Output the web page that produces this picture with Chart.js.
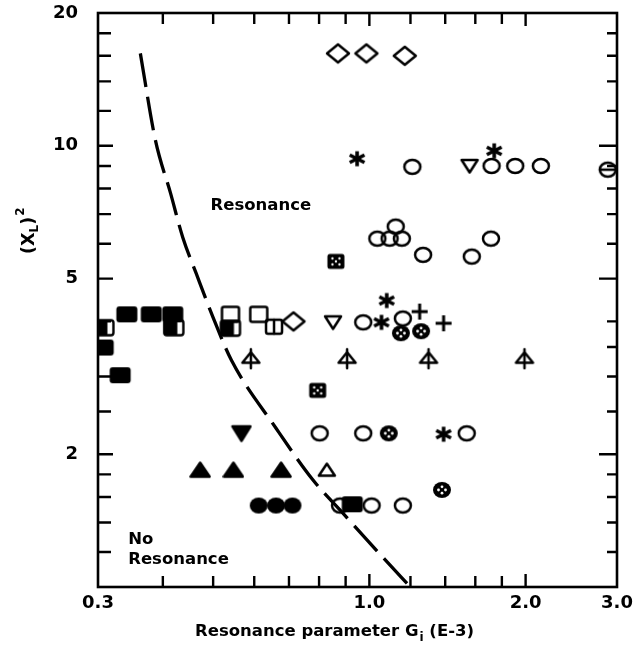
<!DOCTYPE html>
<html><head><meta charset="utf-8">
<script src="https://cdn.jsdelivr.net/npm/chart.js@4.4.0/dist/chart.umd.min.js"></script>
<style>html,body{margin:0;padding:0;background:#fff;}canvas{display:block;}</style>
</head><body>
<canvas id="c" width="634" height="648"></canvas>
<script>
// ---- tick values and labels ----
const xTickValues = [0.3,0.4,0.5,0.6,0.7,0.8,0.9,1,1.2,1.4,1.6,1.8,2,3];
const xTickLabels = {'0.3':'0.3','1':'1.0','2':'2.0','3':'3.0'};
const yTickValues = [1,1.2,1.4,1.6,1.8,2,2.5,3,3.5,4,5,6,7,8,9,10,12,14,16,18,20];
const yTickLabels = {'2':'2','5':'5','10':'10','20':'20'};

// ---- boundary (dashed curve) ----
const boundaryX = [0.362,0.387,0.414,0.437,0.464,0.500,0.542,0.661,0.778,0.889,1.06,1.20];
const boundaryY = [16.2,10.3,7.8,6.2,5.13,4.08,3.27,2.29,1.75,1.47,1.17,1.0];

// ---- data series ----
const openCircleX = [1.21,1.72,1.91,2.14, 1.036,1.094,1.155,1.124,1.269,1.575,1.715, 0.973,1.16, 0.802,0.973,1.54, 0.878,1.01,1.16];
const openCircleY = [8.96,9.0,9.0,9.0, 6.16,6.16,6.16,6.56,5.66,5.61,6.16, 3.98,4.06, 2.23,2.23,2.23, 1.53,1.53,1.53];
const thetaCircleX = [2.88];
const thetaCircleY = [8.83];
const diamondX = [0.870,0.987,1.17,0.714];
const diamondY = [16.2,16.2,16.0,4.0];
const asteriskX = [0.947,1.74,1.08,1.055,1.39];
const asteriskY = [9.35,9.74,4.46,3.98,2.22];
const openTriDownX = [1.56,0.851];
const openTriDownY = [9.0,3.98];
const filledTriDownX = [0.567];
const filledTriDownY = [2.23];
const filledTriUpX = [0.472,0.547,0.676];
const filledTriUpY = [1.84,1.84,1.84];
const openTriUpX = [0.828];
const openTriUpY = [1.84];
const plusX = [1.25,1.39];
const plusY = [4.21,3.96];
const dotCircleX = [1.15,1.258,1.09,1.38];
const dotCircleY = [3.76,3.80,2.23,1.66];
const dotSquareX = [0.862,0.795];
const dotSquareY = [5.47,2.79];
const stemTriX = [0.591,0.906,1.30,1.99];
const stemTriY = [3.30,3.30,3.30,3.30];
const filledCircleX = [0.612,0.661,0.711];
const filledCircleY = [1.53,1.53,1.53];
const filledSquareX = [0.927,0.341,0.380,0.418,0.307,0.331];
const filledSquareY = [1.54,4.15,4.15,4.15,3.49,3.02];
const halfSquareX = [0.308,0.420,0.540];
const halfSquareY = [3.87,3.87,3.86];
const openSquareX = [0.540,0.612];
const openSquareY = [4.15,4.15];
const splitSquareX = [0.655];
const splitSquareY = [3.89];

// ---- marker glyphs ----
function mk(w, h, draw) {
  const c = document.createElement('canvas');
  c.width = w; c.height = h;
  const g = c.getContext('2d');
  g.strokeStyle = '#000'; g.fillStyle = '#000';
  g.lineWidth = 2.5; g.lineJoin = 'round'; g.lineCap = 'round';
  g.translate(w / 2, h / 2);
  draw(g);
  return c;
}
function rrect(g, x, y, w, h, r) {
  g.beginPath();
  g.moveTo(x + r, y); g.lineTo(x + w - r, y); g.quadraticCurveTo(x + w, y, x + w, y + r);
  g.lineTo(x + w, y + h - r); g.quadraticCurveTo(x + w, y + h, x + w - r, y + h);
  g.lineTo(x + r, y + h); g.quadraticCurveTo(x, y + h, x, y + h - r);
  g.lineTo(x, y + r); g.quadraticCurveTo(x, y, x + r, y); g.closePath();
}
const M = {
  openCircle: mk(24, 22, g => { g.beginPath(); g.ellipse(0, 0, 8, 7, 0, 0, 2 * Math.PI); g.stroke(); }),
  thetaCircle: mk(24, 22, g => { g.beginPath(); g.ellipse(0, 0, 8, 7, 0, 0, 2 * Math.PI); g.stroke();
    g.beginPath(); g.moveTo(-8, 0); g.lineTo(8, 0); g.stroke(); }),
  filledCircle: mk(22, 20, g => { g.beginPath(); g.ellipse(0, 0, 9, 8, 0, 0, 2 * Math.PI); g.fill(); }),
  dotCircle: mk(22, 20, g => { g.beginPath(); g.ellipse(0, 0, 9, 8, 0, 0, 2 * Math.PI); g.fill();
    g.fillStyle = '#fff';
    [[-3.5, 0], [3.5, 0], [0, -3.2], [0, 3.2]].forEach(p => { g.beginPath(); g.arc(p[0], p[1], 1.4, 0, 2 * Math.PI); g.fill(); }); }),
  dotSquare: mk(22, 20, g => { rrect(g, -8.5, -7.5, 17, 15, 2.5); g.fill();
    g.fillStyle = '#fff';
    [[-3.5, -3], [3.5, -3], [-3.5, 3], [3.5, 3], [0, 0]].forEach(p => { g.beginPath(); g.arc(p[0], p[1], 1.2, 0, 2 * Math.PI); g.fill(); }); }),
  diamond: mk(28, 24, g => { g.beginPath(); g.moveTo(0, -9); g.lineTo(11, 0); g.lineTo(0, 9); g.lineTo(-11, 0); g.closePath(); g.stroke(); }),
  asterisk: mk(22, 20, g => { g.lineWidth = 3.6; g.lineCap = 'butt';
    [90, 30, 150].forEach(a => { const r = a * Math.PI / 180; const dx = Math.cos(r) * 8.5, dy = Math.sin(r) * 7.5;
      g.beginPath(); g.moveTo(-dx, -dy); g.lineTo(dx, dy); g.stroke(); }); }),
  plus: mk(22, 22, g => { g.lineWidth = 3; g.lineCap = 'butt'; g.beginPath(); g.moveTo(-8, 0); g.lineTo(8, 0); g.moveTo(0, -8); g.lineTo(0, 8); g.stroke(); }),
  filledTriUp: mk(22, 20, g => { g.beginPath(); g.moveTo(0, -7.5); g.lineTo(9.5, 6.5); g.lineTo(-9.5, 6.5); g.closePath(); g.fill(); g.stroke(); }),
  openTriUp: mk(22, 20, g => { g.beginPath(); g.moveTo(0, -6.5); g.lineTo(8, 5.5); g.lineTo(-8, 5.5); g.closePath(); g.stroke(); }),
  openTriDown: mk(22, 20, g => { g.beginPath(); g.moveTo(0, 6.5); g.lineTo(8, -6); g.lineTo(-8, -6); g.closePath(); g.stroke(); }),
  filledTriDown: mk(22, 20, g => { g.beginPath(); g.moveTo(0, 7.5); g.lineTo(9, -7); g.lineTo(-9, -7); g.closePath(); g.fill(); g.stroke(); }),
  stemTri: mk(22, 24, g => { g.lineWidth = 2.5; g.beginPath(); g.moveTo(0, -6); g.lineTo(8.5, 4.5); g.lineTo(-8.5, 4.5); g.closePath(); g.stroke();
    g.beginPath(); g.moveTo(0, -9); g.lineTo(0, 10); g.stroke(); }),
  filledSquare: mk(26, 20, g => { rrect(g, -10.5, -8, 21, 16, 3); g.fill(); }),
  halfSquare: mk(26, 20, g => { g.lineWidth = 2.4; rrect(g, -9.5, -7.5, 19, 15, 2.5); g.stroke();
    rrect(g, -10.5, -8, 14, 16, 2.5); g.fill(); }),
  openSquare: mk(24, 20, g => { rrect(g, -8.5, -7.5, 17, 15, 2); g.stroke(); }),
  splitSquare: mk(24, 20, g => { rrect(g, -8, -7, 16, 14, 2); g.stroke(); g.beginPath(); g.moveTo(0, -7); g.lineTo(0, 7); g.stroke(); })
};

function pts(xs, ys) { return xs.map((x, i) => ({ x: x, y: ys[i] })); }
function series(label, xs, ys, style, order) {
  return { label, data: pts(xs, ys), pointStyle: M[style], pointRadius: 6, pointHoverRadius: 6,
    showLine: false, borderColor: '#000', backgroundColor: '#000', order: order || 0 };
}

const datasets = [
  series('filled square', filledSquareX, filledSquareY, 'filledSquare', 0),
  series('half square', halfSquareX, halfSquareY, 'halfSquare', 1),
  series('open square', openSquareX, openSquareY, 'openSquare', 1),
  series('split square', splitSquareX, splitSquareY, 'splitSquare', 1),
  series('dotted circle', dotCircleX, dotCircleY, 'dotCircle', 0),
  series('dotted square', dotSquareX, dotSquareY, 'dotSquare', 0),
  series('open circle', openCircleX, openCircleY, 'openCircle', 2),
  series('theta circle', thetaCircleX, thetaCircleY, 'thetaCircle', 2),
  series('diamond', diamondX, diamondY, 'diamond', 2),
  series('asterisk', asteriskX, asteriskY, 'asterisk', 1),
  series('open triangle down', openTriDownX, openTriDownY, 'openTriDown', 2),
  series('filled triangle down', filledTriDownX, filledTriDownY, 'filledTriDown', 2),
  series('filled triangle up', filledTriUpX, filledTriUpY, 'filledTriUp', 2),
  series('open triangle up', openTriUpX, openTriUpY, 'openTriUp', 2),
  series('plus', plusX, plusY, 'plus', 1),
  series('stem triangle', stemTriX, stemTriY, 'stemTri', 2),
  series('filled circle', filledCircleX, filledCircleY, 'filledCircle', 2),
  { label: 'boundary', data: pts(boundaryX, boundaryY), showLine: true, pointRadius: 0, pointHoverRadius: 0,
    borderColor: '#000', borderWidth: 3.3, borderDash: [34, 10], cubicInterpolationMode: 'monotone', fill: false, order: 50 }
];

const FONT = "'DejaVu Sans', 'Liberation Sans', sans-serif";

const framePlugin = {
  id: 'frame',
  afterDraw(chart) {
    const ctx = chart.ctx, a = chart.chartArea, xs = chart.scales.x, ys = chart.scales.y;
    ctx.save();
    ctx.strokeStyle = '#000'; ctx.fillStyle = '#000';
    ctx.lineWidth = 2.6; ctx.lineCap = 'butt';
    ctx.strokeRect(a.left, a.top, a.right - a.left, a.bottom - a.top);
    // inward ticks
    ctx.lineWidth = 2.4;
    ctx.beginPath();
    xs.ticks.forEach(t => {
      const px = xs.getPixelForValue(t.value);
      if (px <= a.left + 1 || px >= a.right - 1) return;
      const len = xTickLabels[String(t.value)] ? 13 : 11;
      ctx.moveTo(px, a.bottom); ctx.lineTo(px, a.bottom - len);
      ctx.moveTo(px, a.top); ctx.lineTo(px, a.top + len);
    });
    ys.ticks.forEach(t => {
      const py = ys.getPixelForValue(t.value);
      if (py <= a.top + 1 || py >= a.bottom - 1) return;
      const major = !!yTickLabels[String(t.value)];
      ctx.moveTo(a.left, py); ctx.lineTo(a.left + (major ? 15 : 13), py);
      ctx.moveTo(a.right, py); ctx.lineTo(a.right - (major ? 18 : 10), py);
    });
    ctx.stroke();

    // region labels (anchored in data coordinates)
    ctx.font = 'bold 16.5px ' + FONT;
    ctx.textBaseline = 'middle';
    ctx.textAlign = 'center';
    ctx.fillText('Resonance', xs.getPixelForValue(0.618), ys.getPixelForValue(7.3));
    ctx.textAlign = 'left';
    const nx = xs.getPixelForValue(0.343);
    ctx.fillText('No', nx, ys.getPixelForValue(1.277));
    ctx.fillText('Resonance', nx, ys.getPixelForValue(1.151));

    // x axis title with subscript
    const big = 'bold 16.5px ' + FONT, small = 'bold 12px ' + FONT;
    const p1 = 'Resonance parameter G', p2 = 'i', p3 = ' (E-3)';
    ctx.font = big; const w1 = ctx.measureText(p1).width, w3 = ctx.measureText(p3).width;
    ctx.font = small; const w2 = ctx.measureText(p2).width;
    let x0 = 334 - (w1 + w2 + w3) / 2;
    const by = 636;
    ctx.textBaseline = 'alphabetic'; ctx.textAlign = 'left';
    ctx.font = big; ctx.fillText(p1, x0, by); x0 += w1;
    ctx.font = small; ctx.fillText(p2, x0 + 1, by + 5); x0 += w2 + 1;
    ctx.font = big; ctx.fillText(p3, x0, by);

    // y axis title (X_L)^2 rotated
    ctx.translate(34, 254);
    ctx.rotate(-Math.PI / 2);
    const yb = 'bold 17.5px ' + FONT, ysm = 'bold 12px ' + FONT;
    let t = 0;
    ctx.font = yb; ctx.fillText('(X', t, 0); t += ctx.measureText('(X').width;
    ctx.font = ysm; ctx.fillText('L', t, 4); t += ctx.measureText('L').width;
    ctx.font = yb; ctx.fillText(')', t, 0); t += ctx.measureText(')').width;
    ctx.font = ysm; ctx.fillText('2', t + 1, -10);
    ctx.restore();
  }
};

new Chart(document.getElementById('c'), {
  type: 'scatter',
  data: { datasets },
  options: {
    responsive: false,
    animation: false,
    devicePixelRatio: 1,
    layout: { padding: { top: 13, right: 17, left: 0, bottom: 0 } },
    plugins: { legend: { display: false }, tooltip: { enabled: false } },
    scales: {
      x: {
        type: 'logarithmic', min: 0.3, max: 3.0,
        afterBuildTicks: s => { s.ticks = xTickValues.map(v => ({ value: v })); },
        afterFit: s => { s.height = 61; s.paddingLeft = 0; s.paddingRight = 0; },
        grid: { display: false, drawTicks: false },
        border: { display: false },
        ticks: { autoSkip: false, maxRotation: 0, padding: 6, color: '#000',
          font: { family: FONT, size: 18, weight: 'bold' },
          callback: v => xTickLabels[String(v)] || '' }
      },
      y: {
        type: 'logarithmic', min: 1, max: 20,
        afterBuildTicks: s => { s.ticks = yTickValues.map(v => ({ value: v })); },
        afterFit: s => { s.width = 98; s.paddingTop = 0; s.paddingBottom = 0; },
        grid: { display: false, drawTicks: false },
        border: { display: false },
        ticks: { autoSkip: false, padding: 20, color: '#000',
          font: { family: FONT, size: 18, weight: 'bold' },
          callback: v => yTickLabels[String(v)] || '' }
      }
    }
  },
  plugins: [framePlugin]
});
</script>
</body></html>
